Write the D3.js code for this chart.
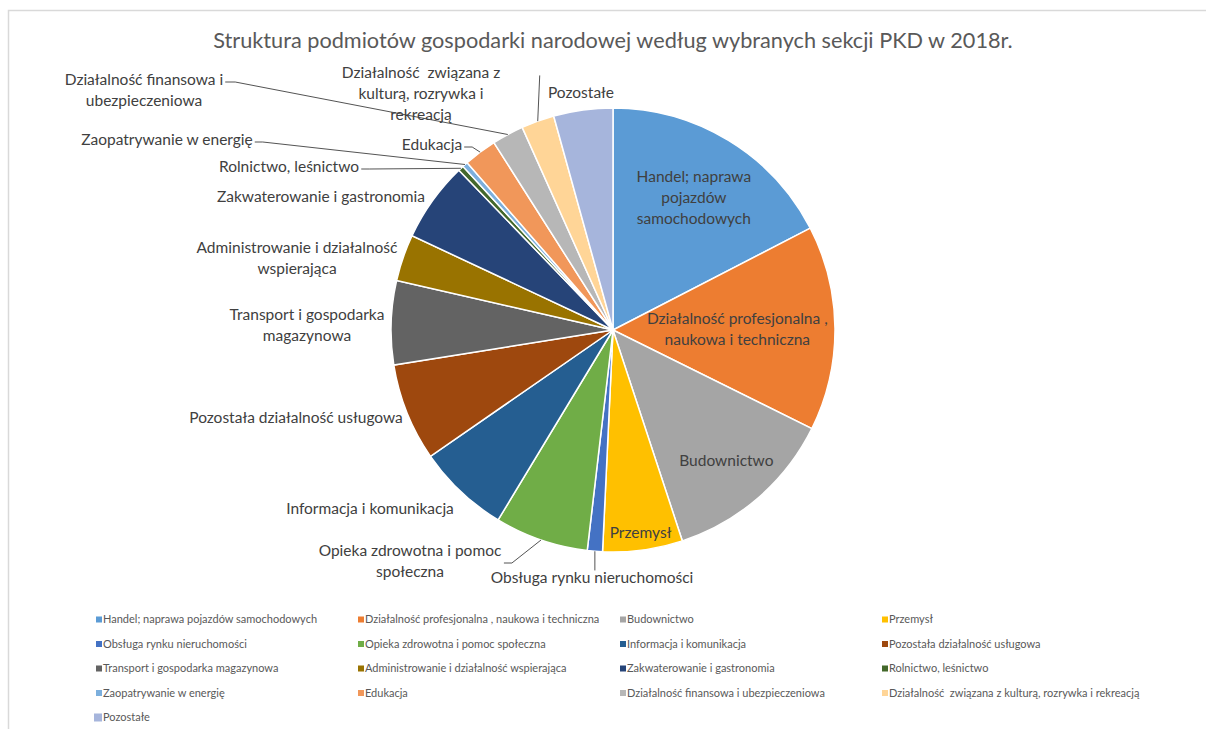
<!DOCTYPE html>
<html>
<head>
<meta charset="utf-8">
<script src="https://cdn.jsdelivr.net/npm/d3@7"></script>
<style>
  body { margin: 0; background: #fff; }
  svg { display: block; font-family: Lato, "Open Sans", sans-serif; }
</style>
</head>
<body>
<svg id="chart"></svg>
<script>
const width = 1206, height = 729;

// data (share in %)
const categories = [
  'Handel; naprawa pojazdów samochodowych',
  'Działalność profesjonalna , naukowa i techniczna',
  'Budownictwo',
  'Przemysł',
  'Obsługa rynku nieruchomości',
  'Opieka zdrowotna i pomoc społeczna',
  'Informacja i komunikacja',
  'Pozostała działalność usługowa',
  'Transport i gospodarka magazynowa',
  'Administrowanie i działalność wspierająca',
  'Zakwaterowanie i gastronomia',
  'Rolnictwo, leśnictwo',
  'Zaopatrywanie w energię',
  'Edukacja',
  'Działalność finansowa i ubezpieczeniowa',
  'Działalność  związana z kulturą, rozrywka i rekreacją',
  'Pozostałe'
];
const values = [17.4, 14.9, 12.6, 5.8, 1.1, 6.8, 6.7, 7.1, 6.1, 3.4, 5.8, 0.4, 0.4, 2.4, 2.3, 2.4, 4.3];
const colors = ['#5B9BD5','#ED7D31','#A5A5A5','#FFC000','#4472C4','#70AD47','#255E91','#9E480E',
                '#636363','#997300','#264478','#43682B','#7CAFDD','#F1975A','#B7B7B7','#FFD597','#A6B5DC'];
const title = 'Struktura podmiotów gospodarki narodowej według wybranych sekcji PKD w 2018r.';

// label text as wrapped on the chart
const labelLines = [
  ['Handel; naprawa','pojazdów','samochodowych'],
  ['Działalność profesjonalna ,','naukowa i techniczna'],
  ['Budownictwo'],
  ['Przemysł'],
  ['Obsługa rynku nieruchomości'],
  ['Opieka zdrowotna i pomoc','społeczna'],
  ['Informacja i komunikacja'],
  ['Pozostała działalność usługowa'],
  ['Transport i gospodarka','magazynowa'],
  ['Administrowanie i działalność','wspierająca'],
  ['Zakwaterowanie i gastronomia'],
  ['Rolnictwo, leśnictwo'],
  ['Zaopatrywanie w energię'],
  ['Edukacja'],
  ['Działalność finansowa i','ubezpieczeniowa'],
  ['Działalność  związana z','kulturą, rozrywka i','rekreacją'],
  ['Pozostałe']
];

// layout
const cx = 613, cy = 330, R = 222;
const lineH = 21;
// inside labels: radius factor; outside labels: offset of label centre from pie centre
const labelLayout = [
  {inR: 0.70}, {inR: 0.56}, {inR: 0.78}, {inR: 0.92},
  {dx: -21, dy: 248, leader: 'top'},
  {dx: -203, dy: 231, leader: 'end'},
  {dx: -243, dy: 179},
  {dx: -317, dy: 88},
  {dx: -306, dy: -4.5},
  {dx: -316, dy: -71.5},
  {dx: -292, dy: -133},
  {dx: -324, dy: -163, leader: 'end'},
  {dx: -446, dy: -190, leader: 'end'},
  {dx: -181, dy: -185, leader: 'end'},
  {dx: -469, dy: -239.5, leader: 'end1'},
  {dx: -192, dy: -236, leader: 'vert'},
  {dx: -32, dy: -237}
];

const svg = d3.select('#chart').attr('width', width).attr('height', height);

svg.append('rect')
  .attr('x', 8.5).attr('y', 10.5)
  .attr('width', 1400).attr('height', 900)
  .attr('fill', 'none').attr('stroke', '#D9D9D9').attr('stroke-width', 1.5);

svg.append('text')
  .attr('x', cx).attr('y', 40)
  .attr('text-anchor', 'middle').attr('dominant-baseline', 'central')
  .attr('fill', '#595959').style('font-size', '21.7px')
  .text(title);

const pie = d3.pie().sort(null).value(d => d);
const arcs = pie(values);
const arc = d3.arc().innerRadius(0).outerRadius(R);
const edgeArc = d3.arc().innerRadius(R).outerRadius(R);

const g = svg.append('g').attr('transform', `translate(${cx},${cy})`);

g.selectAll('path.slice')
  .data(arcs)
  .join('path')
  .attr('class', 'slice')
  .attr('d', arc)
  .attr('fill', (d, i) => colors[i])
  .attr('stroke', '#fff')
  .attr('stroke-width', 1.5);

// labels
const labels = g.append('g').attr('class', 'labels');
const leaders = g.append('g').attr('class', 'leaders');

arcs.forEach((d, i) => {
  const lay = labelLayout[i];
  const lines = labelLines[i];
  let px, py;
  if (lay.inR !== undefined) {
    const a = (d.startAngle + d.endAngle) / 2;
    px = Math.sin(a) * R * lay.inR;
    py = -Math.cos(a) * R * lay.inR;
  } else {
    px = lay.dx; py = lay.dy;
  }
  const t = labels.append('text')
    .attr('text-anchor', 'middle')
    .attr('fill', '#404040')
    .style('font-size', '15.5px')
    .style('white-space', 'pre');
  const y0 = py - (lines.length - 1) * lineH / 2;
  lines.forEach((ln, k) => {
    t.append('tspan')
      .attr('x', px).attr('y', y0 + k * lineH)
      .attr('dy', '0.35em')
      .text(ln);
  });

  if (lay.leader) {
    const [ex, ey] = edgeArc.centroid(d);
    const bb = t.node().getBBox();
    let pts;
    if (lay.leader === 'top') {
      pts = [[ex, ey], [ex, bb.y + 2]];
    } else if (lay.leader === 'vert') {
      pts = [[ex, ey], [ex + 2, bb.y + 12]];
    } else if (lay.leader === 'end1') {
      const w = t.select('tspan').node().getComputedTextLength();
      const sx = px + w / 2 + 2;
      pts = [[sx, y0 + 2], [sx + 10, y0 + 2], [ex, ey]];
    } else {
      const sx = bb.x + bb.width + 2;
      const sy = py + 2;
      pts = [[sx, sy], [sx + 8, sy], [ex, ey]];
    }
    leaders.append('path')
      .attr('d', d3.line()(pts))
      .attr('fill', 'none')
      .attr('stroke', '#404040')
      .attr('stroke-width', 0.9);
  }
});

// legend
const legend = svg.append('g').attr('class', 'legend');
const colX = d3.scaleLinear().domain([0, 1]).range([96, 358]);
const rowY = d3.scaleLinear().domain([0, 1]).range([619.5, 644]);
categories.forEach((c, i) => {
  const col = i % 4, row = Math.floor(i / 4);
  const x = colX(col), y = rowY(row);
  const big = i === categories.length - 1;
  const s = big ? 8 : 6;
  const item = legend.append('g').attr('transform', `translate(${x},${y})`);
  item.append('rect')
    .attr('x', big ? -2 : 0).attr('y', -s / 2)
    .attr('width', s).attr('height', s)
    .attr('fill', colors[i]);
  item.append('text')
    .attr('x', 7).attr('y', 0).attr('dy', '0.35em')
    .attr('fill', '#595959').style('font-size', '11px')
    .style('white-space', 'pre')
    .text(c);
});
</script>
</body>
</html>
